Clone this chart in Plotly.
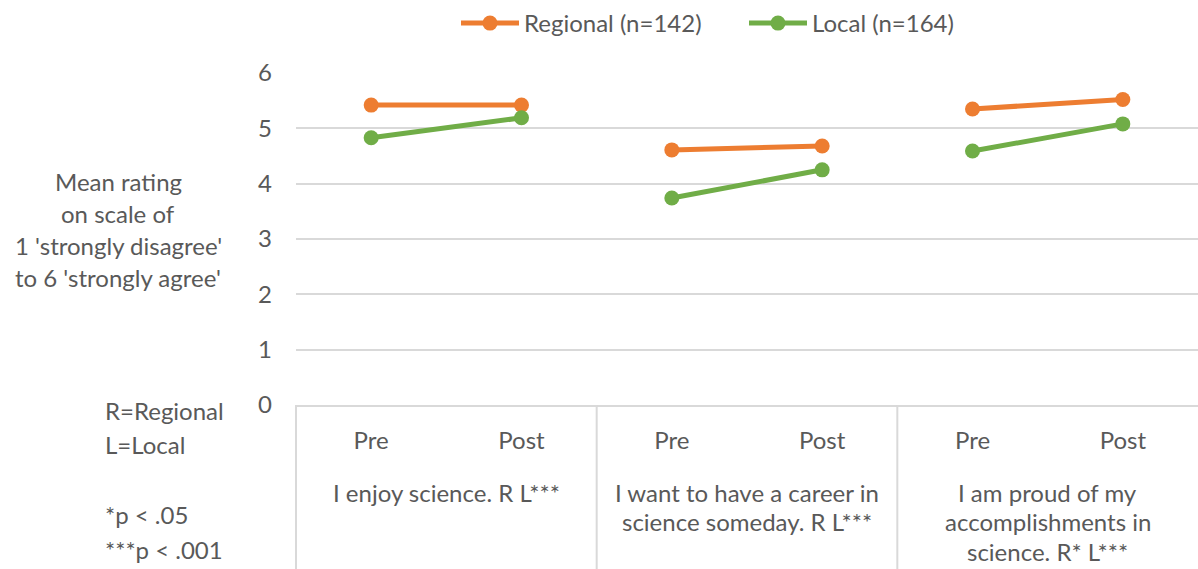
import plotly.graph_objects as go

# ---- data ----
groups = ["I enjoy science. R L***",
          "I want to have a career in<br>science someday. R L***",
          "I am proud of my<br>accomplishments in<br>science. R* L***"]
phases = ["Pre", "Post"]
regional = [5.42, 5.42, 4.61, 4.68, 5.35, 5.52]
local = [4.83, 5.19, 3.74, 4.25, 4.59, 5.08]
series_names = ["Regional (n=142)", "Local (n=164)"]
y_ticks = [0, 1, 2, 3, 4, 5, 6]
y_title_lines = ["Mean rating", "on scale of", "1 'strongly disagree'", "to 6 'strongly agree'"]
note_lines = ["R=Regional", "L=Local", "", "*p < .05", "***p < .001"]

ORANGE = "#ED7D31"
GREEN = "#70AD47"
TXT = "#595959"
GRID = "#D9D9D9"
FONT = "Lato"
FS = 24

W, H = 1198, 569
ML, MR, MT, MB = 296, 0, 73, 164
PH = H - MT - MB
PW = W - ML - MR


def with_gaps(vals):
    xs, ys = [], []
    for g in range(len(groups)):
        for p in range(len(phases)):
            i = g * len(phases) + p
            xs.append(i)
            ys.append(vals[i])
        xs.append(None)
        ys.append(None)
    return xs, ys


fig = go.Figure()
for name, vals, col in [(series_names[0], regional, ORANGE), (series_names[1], local, GREEN)]:
    xs, ys = with_gaps(vals)
    fig.add_trace(go.Scatter(x=xs, y=ys, mode="lines+markers", name=name,
                             line=dict(color=col, width=5),
                             marker=dict(color=col, size=15),
                             connectgaps=False))

n = len(groups) * len(phases)
tickvals = list(range(n))
ticktext = [phases[i % len(phases)] for i in range(n)]

annotations = []
# group labels
for g, lab in enumerate(groups):
    for k, line in enumerate(lab.split("<br>")):
        annotations.append(dict(xref="x", yref="paper", x=g * 2 + 0.5, y=0,
                                yanchor="middle", xanchor="center",
                                yshift=-(87 + k * 29.5), text=line, showarrow=False,
                                font=dict(family=FONT, size=FS, color=TXT)))
# y title lines
for k, line in enumerate(y_title_lines):
    annotations.append(dict(xref="paper", yref="paper", x=0, y=0, xshift=-(ML - 118),
                            yshift=405 - 181 - k * 32, xanchor="center", yanchor="middle",
                            text=line, showarrow=False,
                            font=dict(family=FONT, size=FS, color=TXT)))
# notes
for k, line in enumerate(note_lines):
    if not line:
        continue
    annotations.append(dict(xref="paper", yref="paper", x=0, y=0, xshift=-(ML - 103),
                            yshift=-(410 - 405 + k * 34.8), xanchor="left", yanchor="middle",
                            text=line, showarrow=False,
                            font=dict(family=FONT, size=FS, color=TXT)))

# group dividers below the axis (left edge and between groups)
shapes = []
for g in range(len(groups)):
    shapes.append(dict(type="line", xref="paper", yref="paper",
                       x0=g / len(groups), x1=g / len(groups), y0=0, y1=-MB / PH,
                       line=dict(color=GRID, width=2)))

fig.update_layout(
    width=W, height=H, autosize=False,
    margin=dict(l=ML, r=MR, t=MT, b=MB, pad=0),
    plot_bgcolor="white", paper_bgcolor="white",
    font=dict(family=FONT, size=FS, color=TXT),
    showlegend=True,
    legend=dict(orientation="h", xref="paper", yref="paper",
                x=(456 - ML) / PW, y=1 + (MT - 1) / PH,
                xanchor="left", yanchor="top",
                font=dict(family=FONT, size=FS, color=TXT), itemwidth=58,
                entrywidth=215, entrywidthmode="pixels",
                traceorder="normal"),
    xaxis=dict(range=[-0.5, n - 0.5], tickvals=tickvals, ticktext=ticktext,
               showgrid=False, zeroline=False, showline=True, linecolor=GRID, linewidth=2,
               ticks="", ticklabelstandoff=13, tickfont=dict(family=FONT, size=FS, color=TXT),
               fixedrange=True),
    yaxis=dict(range=[0, 6], tickvals=y_ticks, showgrid=True, gridcolor=GRID, gridwidth=1.5,
               zeroline=False, showline=False, ticks="", ticklabelstandoff=23,
               tickfont=dict(family=FONT, size=FS, color=TXT), fixedrange=True),
    annotations=annotations,
    shapes=shapes,
)

fig.write_html("out.html", config={"displayModeBar": False},
               post_script="document.body.style.margin='0px';")
